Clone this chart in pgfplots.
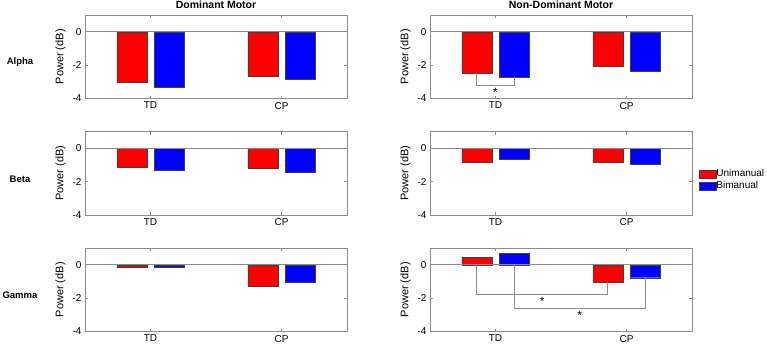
\documentclass[border=0pt]{standalone}
\usepackage{fontspec}
\setmainfont{Liberation Sans}
\usepackage{pgfplots}
\usepackage{pgfplotstable}
\pgfplotsset{compat=1.18}

\definecolor{axgray}{gray}{0.55}
\definecolor{edgegray}{gray}{0.25}

% mean power change per group (1 = TD, 2 = CP)
\pgfplotstableread{
g   uni    bi
1  -3.04  -3.30
2  -2.66  -2.84
}\alphaDom
\pgfplotstableread{
g   uni    bi
1  -2.46  -2.72
2  -2.04  -2.38
}\alphaNon
\pgfplotstableread{
g   uni    bi
1  -1.12  -1.30
2  -1.22  -1.42
}\betaDom
\pgfplotstableread{
g   uni    bi
1  -0.84  -0.64
2  -0.84  -0.94
}\betaNon
\pgfplotstableread{
g   uni    bi
1  -0.16  -0.16
2  -1.30  -1.04
}\gammaDom
\pgfplotstableread{
g   uni    bi
1   0.46   0.68
2  -1.04  -0.78
}\gammaNon

\tikzset{
  star/.style={anchor=north, inner sep=0pt, font=\fontsize{12}{12}\selectfont},
}

\pgfplotsset{
  panel/.style={
    scale only axis, width=262pt, height=83.5pt,
    anchor=north west,
    xmin=0.5, xmax=2.5, ymin=-4, ymax=1,
    xtick={1,2}, xticklabels={TD,CP},
    ytick={-4,-2,0},
    tick align=inside, major tick length=3pt,
    axis line style={axgray, line width=0.6pt},
    tick style={axgray, line width=0.6pt},
    ticklabel style={font=\fontsize{10}{11}\selectfont, text=black},
    /pgf/number format/assume math mode=true,
    ylabel={Power (dB)},
    ylabel style={font=\fontsize{11}{12}\selectfont},
    title style={font=\fontsize{10.5}{12}\bfseries, yshift=-3pt},
    clip=false,
  },
  uni/.style={ybar, bar width=0.229, bar shift=0pt, fill=red, draw=edgegray, line width=0.4pt},
  bi/.style={ybar, bar width=0.229, bar shift=0pt, fill=blue, draw=edgegray, line width=0.4pt},
  zero/.style={axgray, line width=0.6pt, mark=none, forget plot},
  sig/.style={axgray, line width=0.6pt, mark=none, forget plot},
}

% draws the two bar series of one panel from a table
\newcommand{\panelbars}[1]{%
  \addplot[uni] table[x expr=\thisrow{g}-0.143, y=uni] {#1};
  \addplot[bi]  table[x expr=\thisrow{g}+0.143, y=bi]  {#1};
  \addplot[zero] coordinates {(0.5,0) (2.5,0)};
}

\begin{document}
\begin{tikzpicture}
\path[use as bounding box] (0pt,0pt) rectangle (767pt,-348pt);

% row labels
\node[font=\fontsize{9.5}{11}\bfseries] at (20pt,-61.7pt) {Alpha};
\node[font=\fontsize{9.5}{11}\bfseries] at (20pt,-179.3pt) {Beta};
\node[font=\fontsize{9.5}{11}\bfseries] at (20pt,-295.7pt) {Gamma};

% Alpha
\begin{axis}[panel, at={(85pt,-15pt)}, title={Dominant Motor}]
  \panelbars{\alphaDom}
\end{axis}
\begin{axis}[panel, at={(430pt,-15pt)}, title={Non-Dominant Motor}]
  \panelbars{\alphaNon}
  \addplot[sig] coordinates {(0.857,-2.46) (0.857,-3.18) (1.143,-3.18) (1.143,-2.72)};
  \node[star] at (axis cs:1,-3.38) {*};
\end{axis}

% Beta
\begin{axis}[panel, at={(430pt,-131.5pt)},
  legend style={draw=none, fill=none, at={(1.026,0.42)}, anchor=west,
    font=\fontsize{10}{11}\selectfont, row sep=2pt, inner sep=0pt,
    nodes={inner sep=0.5pt}},
  legend cell align=left,
  legend image code/.code={\path[draw, fill, #1] (0pt,-4pt) rectangle (16.5pt,4pt);}]
  \panelbars{\betaNon}
  \legend{Unimanual, Bimanual}
\end{axis}
\begin{axis}[panel, at={(85pt,-131.5pt)}]
  \panelbars{\betaDom}
\end{axis}

% Gamma
\begin{axis}[panel, at={(85pt,-248pt)}]
  \panelbars{\gammaDom}
\end{axis}
\begin{axis}[panel, at={(430pt,-248pt)}]
  \panelbars{\gammaNon}
  \addplot[sig] coordinates {(0.857,0) (0.857,-1.80) (1.857,-1.80) (1.857,-1.04)};
  \addplot[sig] coordinates {(1.143,0) (1.143,-2.62) (2.143,-2.62) (2.143,-0.78)};
  \node[star] at (axis cs:1.357,-1.96) {*};
  \node[star] at (axis cs:1.643,-2.78) {*};
\end{axis}
\end{tikzpicture}
\end{document}
